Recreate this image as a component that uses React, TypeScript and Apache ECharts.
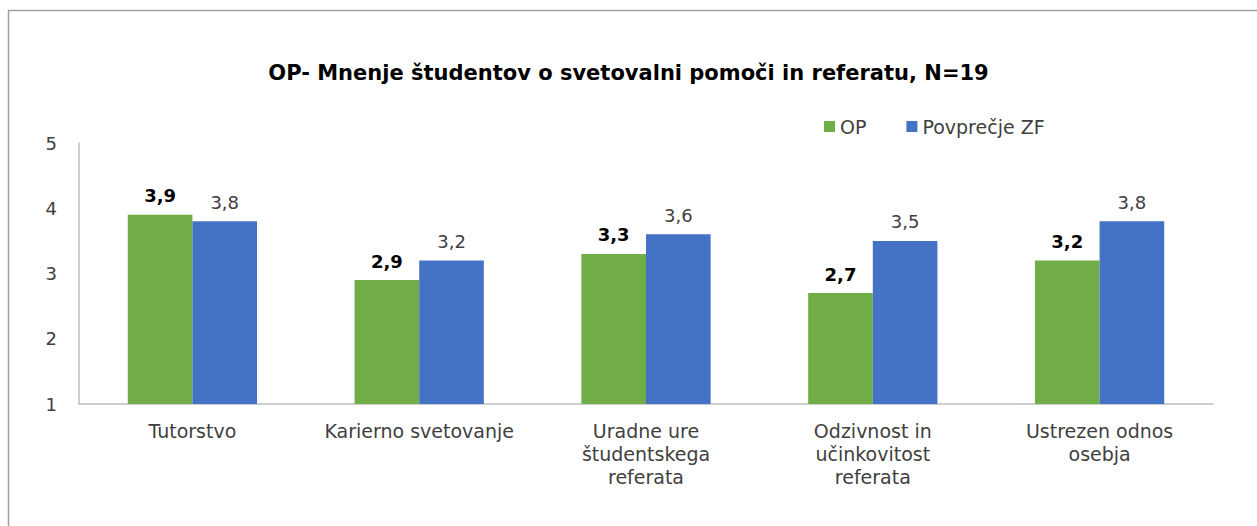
import React, { useEffect, useRef } from "react";
import * as echarts from "echarts";

const categories = [
  "Tutorstvo",
  "Karierno svetovanje",
  "Uradne ure\nštudentskega\nreferata",
  "Odzivnost in\nučinkovitost\nreferata",
  "Ustrezen odnos\nosebja",
];
const opValues = [3.9, 2.9, 3.3, 2.7, 3.2];
const zfValues = [3.8, 3.2, 3.6, 3.5, 3.8];
const seriesNames = ["OP", "Povprečje ZF"];
const titleText = "OP- Mnenje študentov o svetovalni pomoči in referatu, N=19";

const FONT = "'DejaVu Sans', sans-serif";

export default function App() {
  const ref = useRef<HTMLDivElement>(null);
  useEffect(() => {
    if (!ref.current) return;
    const chart = echarts.init(ref.current, undefined, { renderer: "svg" });
    const fmt = (p: any) => String(p.value).replace(".", ",");
    chart.setOption({
      animation: false,
      backgroundColor: "#ffffff",
      textStyle: { fontFamily: FONT },
      title: {
        text: titleText,
        left: "center",
        top: 57,
        textStyle: { fontFamily: FONT, fontSize: 21, fontWeight: "bold", color: "#000000" },
      },
      legend: {
        data: seriesNames,
        left: 819,
        top: 112,
        itemWidth: 11,
        itemHeight: 11,
        itemGap: 40,
        icon: "rect",
        textStyle: { fontFamily: FONT, fontSize: 19, color: "#404040" },
      },
      graphic: [
        {
          type: "polyline",
          shape: { points: [[8.5, 526], [8.5, 10.5], [1257, 10.5]] },
          style: { stroke: "#a0a0a0", fill: "none", lineWidth: 1.5 },
        },
      ],
      grid: { left: 79, right: 44, top: 143, bottom: 122 },
      xAxis: {
        type: "category",
        data: categories,
        axisLine: { lineStyle: { color: "#bfbfbf", width: 1.5 } },
        axisTick: { show: false },
        axisLabel: {
          interval: 0,
          margin: 15,
          fontFamily: FONT,
          fontSize: 19,
          lineHeight: 23,
          color: "#404040",
        },
      },
      yAxis: {
        type: "value",
        min: 1,
        max: 5,
        interval: 1,
        splitLine: { show: false },
        axisLine: { show: true, lineStyle: { color: "#bfbfbf", width: 1.5 } },
        axisTick: { show: false },
        axisLabel: { fontFamily: FONT, fontSize: 18, color: "#404040", margin: 22 },
      },
      series: [
        {
          name: seriesNames[0],
          type: "bar",
          data: opValues,
          barGap: "0%",
          barCategoryGap: "43%",
          itemStyle: { color: "#70ad47" },
          label: {
            show: true,
            position: "top",
            distance: 10,
            formatter: fmt,
            fontFamily: FONT,
            fontSize: 18,
            fontWeight: "bold",
            color: "#000000",
          },
        },
        {
          name: seriesNames[1],
          type: "bar",
          data: zfValues,
          itemStyle: { color: "#4472c4" },
          label: {
            show: true,
            position: "top",
            distance: 10,
            formatter: fmt,
            fontFamily: FONT,
            fontSize: 18,
            color: "#404040",
          },
        },
      ],
    });
    return () => chart.dispose();
  }, []);
  return (
    <div
      ref={ref}
      style={{ position: "fixed", left: 0, top: 0, width: 1257, height: 526 }}
    />
  );
}
